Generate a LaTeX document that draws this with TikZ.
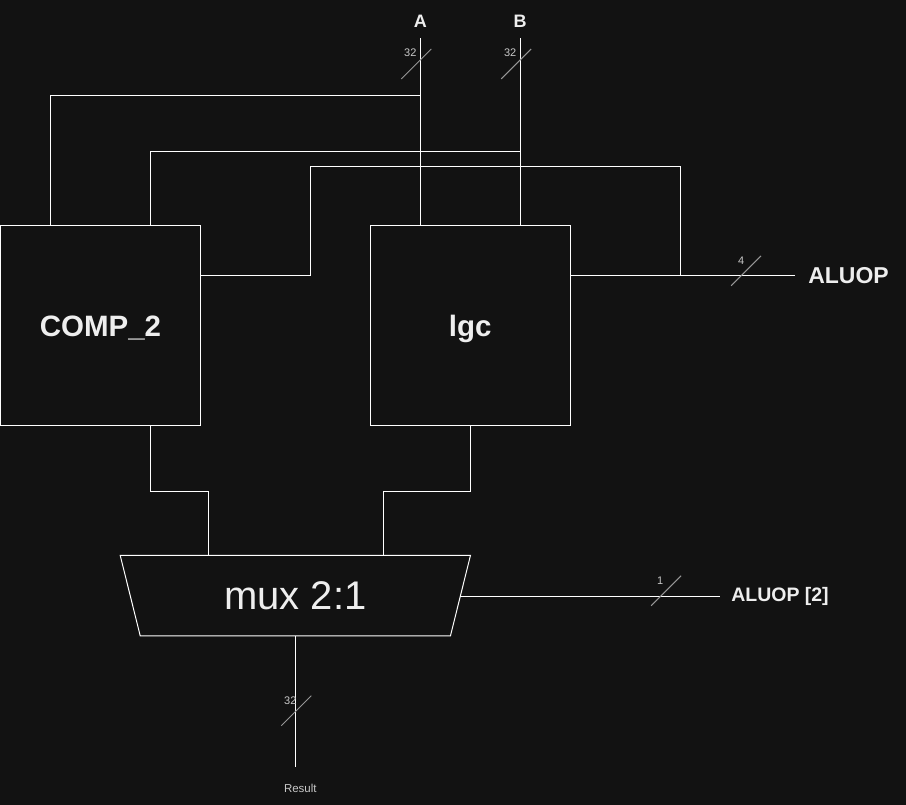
\documentclass[tikz,border=0pt]{standalone}
\usepackage{fontspec}
\setmainfont{Liberation Sans}
\usetikzlibrary{calc}
\definecolor{bgcol}{RGB}{18,18,18}
\definecolor{labcol}{RGB}{238,238,238}
\definecolor{smallcol}{RGB}{200,200,200}
\definecolor{slashcol}{RGB}{150,150,150}

\begin{document}
\begin{tikzpicture}[x=1pt,y=-1pt]
		\tikzstyle{WireStyle}=[draw=white,line width=1pt]
		\tikzstyle{BusStyle}=[draw=slashcol,line width=1pt]
		\tikzstyle{BoxStyle}=[draw=white,line width=1pt,fill=bgcol,minimum width=200pt,minimum height=200pt,inner sep=0pt,text height=21.4pt,text depth=0pt,text=labcol,font=\bfseries\fontsize{29.5}{31}\selectfont]
		\tikzstyle{MuxStyle}=[minimum width=350pt,minimum height=80pt,inner sep=0pt,text height=28.6pt,text depth=0pt,text=labcol,font=\fontsize{40}{42}\selectfont]
		\tikzstyle{PinStyle}=[inner sep=0pt,anchor=base,text=labcol,font=\bfseries\fontsize{18}{20}\selectfont]
		\tikzstyle{WidthStyle}=[inner sep=0pt,text=smallcol,font=\fontsize{11}{12}\selectfont]
		\fill[bgcol] (0,0) rectangle (906,805);
		% blocks
		\node[BoxStyle] (comp) at (100,326) {COMP\_2};
		\node[BoxStyle] (lgc) at (470,326) {lgc};
		\node[MuxStyle] (mux) at (295,596) {mux 2:1};
		\draw[WireStyle] (mux.north west) -- (mux.north east) -- ([xshift=-20pt]mux.south east) -- ([xshift=20pt]mux.south west) -- cycle;
		% pins
		\node[PinStyle] (A) at (420,27.3) {A};
		\node[PinStyle] (B) at (520,27.3) {B};
		\node[PinStyle,anchor=base west,font=\bfseries\fontsize{23}{25}\selectfont] (aluop) at (808,283.4) {ALUOP};
		\node[PinStyle,anchor=base west,font=\bfseries\fontsize{19.5}{21}\selectfont] (sel) at (731,602.3) {ALUOP [2]};
		\node[WidthStyle,font=\fontsize{11.5}{12}\selectfont] (res) at (300,789) {Result};
		\coordinate (ain) at (420,38);
		\coordinate (bin) at (520,38);
		\coordinate (opin) at (795,276);
		\coordinate (optap) at (680,276);
		\coordinate (selin) at (720,597);
		\coordinate (resout) at (295,767);
		% inputs
		\draw[WireStyle] (ain) -- (lgc.north -| ain);
		\draw[WireStyle] ($(ain)+(0,58)$) -| ([xshift=-50pt]comp.north);
		\draw[WireStyle] (bin) -- (lgc.north -| bin);
		\draw[WireStyle] ($(bin)+(0,114)$) -| ([xshift=50pt]comp.north);
		\draw[WireStyle] (opin) -- (lgc.east |- opin);
		\draw[WireStyle] (optap) |- (310,167) |- ([yshift=50pt]comp.east);
		% outputs
		\draw[WireStyle] ([xshift=50pt]comp.south) -- ++(0,65) -| ([xshift=-87pt]mux.north);
		\draw[WireStyle] (lgc.south) -- ++(0,65) -| ([xshift=88pt]mux.north);
		\draw[WireStyle] ([xshift=-10pt,yshift=-1pt]mux.east) -- (selin);
		\draw[WireStyle] (mux.south) -- (resout);
		% bus widths
		\draw[BusStyle] ($(ain)+(-19,41)$) -- ++(30,-30);
		\node[WidthStyle] (wa) at (410,53) {32};
		\draw[BusStyle] ($(bin)+(-19,41)$) -- ++(30,-30);
		\node[WidthStyle] (wb) at (510,53) {32};
		\draw[BusStyle] (731,286) -- ++(30,-30);
		\node[WidthStyle] (wop) at (741,261) {4};
		\draw[BusStyle] (651,606) -- ++(30,-30);
		\node[WidthStyle] (wsel) at (660,581) {1};
		\draw[BusStyle] (281,726) -- ++(30,-30);
		\node[WidthStyle] (wres) at (290,701) {32};
	\end{tikzpicture}
\end{document}
